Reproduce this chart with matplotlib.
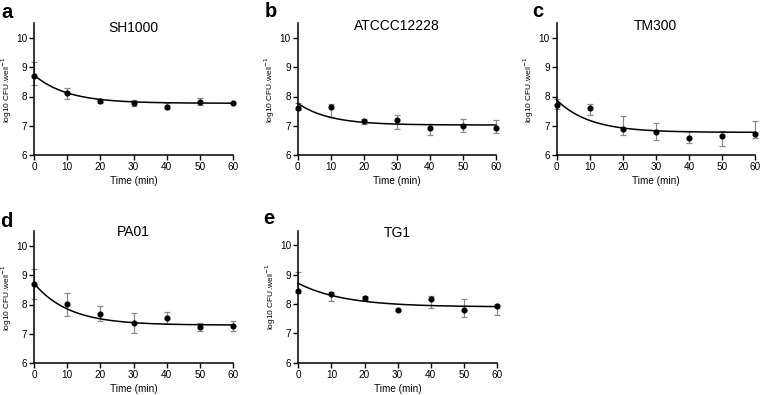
import numpy as np
import matplotlib
matplotlib.use("Agg")
import matplotlib.pyplot as plt

plt.rcParams['font.family'] = ['Liberation Sans', 'DejaVu Sans']

time_min = [0, 10, 20, 30, 40, 50, 60]

panel_letters = ['a', 'b', 'c', 'd', 'e']
strains = ['SH1000', 'ATCCC12228', 'TM300', 'PA01', 'TG1']

# mean log10 CFU per well
sh1000_mean = [8.70, 8.11, 7.85, 7.79, 7.65, 7.80, 7.79]
atcc_mean = [7.62, 7.63, 7.16, 7.19, 6.92, 7.01, 6.92]
tm300_mean = [7.71, 7.61, 6.89, 6.78, 6.60, 6.66, 6.71]
pa01_mean = [8.69, 8.01, 7.69, 7.38, 7.53, 7.23, 7.26]
tg1_mean = [8.44, 8.33, 8.21, 7.79, 8.16, 7.79, 7.93]

# error bar ends (lower, upper) as offsets
sh1000_err_lo = [0.30, 0.21, 0.08, 0.11, 0.07, 0.09, 0.03]
sh1000_err_hi = [0.49, 0.17, 0.08, 0.09, 0.12, 0.16, 0.03]
atcc_err_lo = [0.08, 0.32, 0.09, 0.31, 0.24, 0.22, 0.15]
atcc_err_hi = [0.17, 0.10, 0.09, 0.17, 0.15, 0.23, 0.27]
tm300_err_lo = [0.15, 0.25, 0.20, 0.26, 0.19, 0.34, 0.13]
tm300_err_hi = [0.19, 0.12, 0.45, 0.33, 0.24, 0.18, 0.46]
pa01_err_lo = [0.51, 0.40, 0.25, 0.34, 0.19, 0.13, 0.15]
pa01_err_hi = [0.51, 0.39, 0.27, 0.33, 0.21, 0.14, 0.17]
tg1_err_lo = [0.07, 0.22, 0.08, 0.03, 0.31, 0.24, 0.31]
tg1_err_hi = [0.66, 0.06, 0.07, 0.03, 0.12, 0.37, 0.06]

# one-phase decay fit parameters: y = plateau + (y0 - plateau) * exp(-k t)
fit_y0 = [8.73, 7.77, 7.88, 8.72, 8.70]
fit_plateau = [7.77, 7.03, 6.78, 7.30, 7.90]
fit_k = [0.10, 0.105, 0.10, 0.095, 0.072]

means = [sh1000_mean, atcc_mean, tm300_mean, pa01_mean, tg1_mean]
errs_lo = [sh1000_err_lo, atcc_err_lo, tm300_err_lo, pa01_err_lo, tg1_err_lo]
errs_hi = [sh1000_err_hi, atcc_err_hi, tm300_err_hi, pa01_err_hi, tg1_err_hi]

W, H = 760, 395
fig = plt.figure(figsize=(W / 100, H / 100), dpi=100)

# axes boxes in pixels: left, right, top(10.5), bottom(6)
boxes = [
    (34, 233, 23, 155.3),
    (297.7, 495.7, 23, 155.3),
    (556.7, 755, 23, 155.3),
    (34, 233, 231, 363.3),
    (298.3, 497, 230.5, 362.7),
]
letter_pos = [(1, 18), (265, 17), (532, 17), (0, 227), (263, 223.5)]
title_offset = [4.5, 3.5, 3.5, 1.5, 2.5]

for i in range(5):
    l, r, t, b = boxes[i]
    ax = fig.add_axes([l / W, 1 - b / H, (r - l) / W, (b - t) / H])
    ax.errorbar(time_min, means[i], yerr=[errs_lo[i], errs_hi[i]], fmt='none',
                ecolor='#8a8a8a', elinewidth=0.9, capsize=2.2, capthick=0.9,
                clip_on=False, zorder=2)
    tt = np.linspace(0, 60, 300)
    yy = fit_plateau[i] + (fit_y0[i] - fit_plateau[i]) * np.exp(-fit_k[i] * tt)
    ax.plot(tt, yy, color='black', lw=1.1, zorder=3, clip_on=False)
    ax.plot(time_min, means[i], 'o', color='black', ms=3.4, zorder=4, clip_on=False)
    ax.set_xlim(0, 60)
    ax.set_ylim(6, 10.5)
    ax.set_xticks(time_min)
    ax.set_yticks([6, 7, 8, 9, 10])
    ax.spines['top'].set_visible(False)
    ax.spines['right'].set_visible(False)
    for s in ('left', 'bottom'):
        ax.spines[s].set_linewidth(1.1)
    ax.tick_params(axis='both', direction='out', length=3.5, width=1.0,
                   labelsize=7.2, pad=1.5, colors='black')
    ax.set_xlabel('Time (min)', fontsize=7.2, labelpad=3)
    ax.set_ylabel('log10 CFU.well$^{-1}$', fontsize=6.0, labelpad=1.5)
    ax.text(0.5, 1 - title_offset[i] / (b - t), strains[i], transform=ax.transAxes,
            ha='center', va='center', fontsize=10)
    lx, ly = letter_pos[i]
    fig.text(lx / W, 1 - ly / H, panel_letters[i], fontsize=14.5,
             fontweight='bold', ha='left', va='baseline')

fig.savefig('out.png', dpi=100)
